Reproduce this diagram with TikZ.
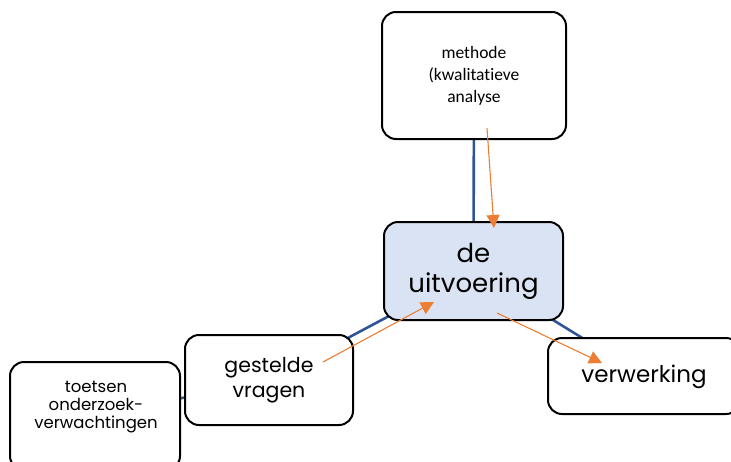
\documentclass[tikz,border=0pt]{standalone}
\usepackage{fontspec}
\setmainfont{Carlito}[Ligatures=NoCommon]
\newfontfamily\handfont{Poppins}
\usetikzlibrary{arrows.meta,backgrounds}
\definecolor{linkblue}{HTML}{2F5597}
\definecolor{flowor}{HTML}{ED7D31}
\definecolor{hubfill}{HTML}{DAE3F3}
\tikzset{
  box/.style={draw=black, line width=2pt, rounded corners=14pt, fill=white, align=center, inner sep=2pt},
  link/.style={draw=linkblue, line width=2.6pt},
  flow/.style={draw=flowor, line width=1.1pt, -{Triangle[length=13pt,width=13pt]}},
}
\begin{document}
\begin{tikzpicture}[x=1pt,y=-1pt]
\useasboundingbox (0,0) rectangle (731,461);
\clip (0,0) rectangle (731,461);
\node[box, minimum width=184pt, minimum height=127pt, font=\fontsize{17.5}{22}\selectfont] (meth) at (474,75.5) {methode\\(kwalitatieve\\analyse};
\node[box, fill=hubfill, minimum width=179pt, minimum height=98pt, font=\handfont\fontsize{26}{30}\selectfont] (hub) at (473.5,271) {de\\uitvoering};
\node[box, minimum width=168pt, minimum height=90pt, font=\handfont\fontsize{20.5}{25}\selectfont] (vrag) at (269,380) {gestelde\\vragen};
\node[box, minimum width=170pt, minimum height=108pt] (toets) at (95,416) {};
\node[font=\handfont\fontsize{16.5}{18}\selectfont, align=center] (toetstxt) at (96,407) {toetsen\\onderzoek-\\verwachtingen};
\node[box, minimum width=192pt, minimum height=76pt] (verw) at (644,376) {};
\node[font=\handfont\fontsize{23}{27}\selectfont] (verwtxt) at (644,377) {verwerking};
\begin{scope}[on background layer]
\draw[link] (meth.center) -- (hub.center);
\draw[link] (hub.center) -- (vrag.center);
\draw[link] (hub.center) -- (verw.center);
\draw[link] (vrag.center) -- (toets.center);
\end{scope}
\coordinate (a1) at (487,128);
\coordinate (a2) at (494,228);
\coordinate (b1) at (323,362);
\coordinate (b2) at (434,302);
\coordinate (c1) at (497,313);
\coordinate (c2) at (602,363);
\draw[flow] (a1) -- (a2);
\draw[flow] (b1) -- (b2);
\draw[flow] (c1) -- (c2);
\end{tikzpicture}
\end{document}
